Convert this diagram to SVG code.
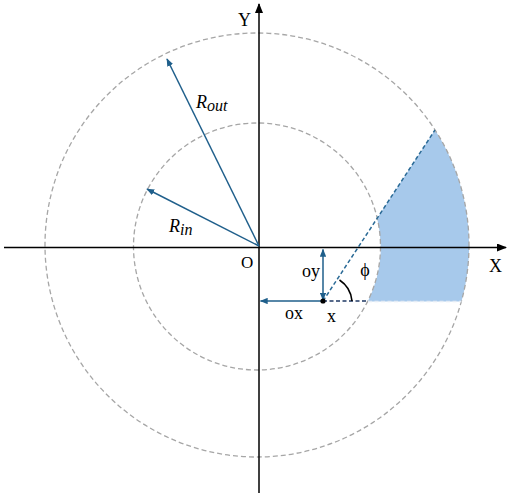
<svg xmlns="http://www.w3.org/2000/svg" width="512" height="501" viewBox="0 0 512 501">
<style>
.circ{fill:none;stroke:#a6a6a6;stroke-width:1.3;stroke-dasharray:5 3}
.axis{fill:none;stroke:#000;stroke-width:1.5}
.arr{fill:none;stroke:#1f5f8b;stroke-width:1.5}
.lbl{font-family:"Liberation Serif","Times New Roman",serif;fill:#000}
.it{font-style:italic}
</style>
<defs>
<marker id="ah" viewBox="0 0 10 8" refX="9" refY="4" markerWidth="8" markerHeight="6.4" markerUnits="userSpaceOnUse" orient="auto-start-reverse">
<path d="M0,0 L10,4 L0,8 z" fill="#1f5f8b"/>
</marker>
<marker id="axh" viewBox="0 0 10 8" refX="9" refY="4" markerWidth="10" markerHeight="8" markerUnits="userSpaceOnUse" orient="auto">
<path d="M0,0 L10,4 L0,8 z" fill="#000"/>
</marker>
</defs>
<g id="shading">
<path d="M377.2,218.2 L435,129.9 A212,212 0 0 1 461.5,301.5 L367.8,301.5 A123.5,123.5 0 0 0 377.2,218.2 Z" fill="#a7c9eb"/>
</g>
<g id="circles">
<circle class="circ" cx="257" cy="245" r="212"/>
<circle class="circ" cx="257" cy="246.5" r="123.5"/>
</g>
<g id="axes">
<line class="axis" x1="4" y1="247.5" x2="506" y2="247.5" marker-end="url(#axh)"/>
<line class="axis" x1="259" y1="493" x2="259" y2="4" marker-end="url(#axh)"/>
</g>
<g id="connectors">
<line class="arr" x1="259" y1="246" x2="167" y2="59" marker-end="url(#ah)"/>
<line class="arr" x1="259" y1="246" x2="147" y2="189" marker-end="url(#ah)"/>
<line class="arr" x1="323" y1="300" x2="323" y2="249.5" marker-start="url(#ah)" marker-end="url(#ah)"/>
<line class="arr" x1="323" y1="301" x2="260.5" y2="301" marker-end="url(#ah)"/>
<line x1="323" y1="301" x2="435" y2="130" stroke="#2a6a96" stroke-width="1.5" stroke-dasharray="4 2.5"/>
<line x1="323" y1="301" x2="368" y2="301" stroke="#1f3864" stroke-width="1.5" stroke-dasharray="4 2.5"/>
<line x1="368" y1="301.5" x2="461.5" y2="301.5" stroke="#e4ecf5" stroke-width="1.3" stroke-dasharray="4 2.5"/>
<path d="M339.5,280 A28,28 0 0 1 352,301" fill="none" stroke="#000" stroke-width="1.6"/>
<circle cx="323" cy="301" r="2.6" fill="#000"/>
</g>
<g id="labels">
<text class="lbl" x="238" y="26" font-size="18">Y</text>
<text class="lbl" x="489" y="272" font-size="18">X</text>
<text class="lbl" x="241" y="268" font-size="17">O</text>
<text class="lbl" x="302" y="277" font-size="18">oy</text>
<text class="lbl" x="285" y="319" font-size="18">ox</text>
<text class="lbl" x="327" y="322" font-size="18">x</text>
<text class="lbl" x="365" y="276" font-size="18" text-anchor="middle">ϕ</text>
<text class="lbl it" x="196" y="108" font-size="18">R<tspan font-size="16" dy="3">out</tspan></text>
<text class="lbl it" x="169" y="232" font-size="18">R<tspan font-size="16" dy="3">in</tspan></text>
</g>
</svg>
